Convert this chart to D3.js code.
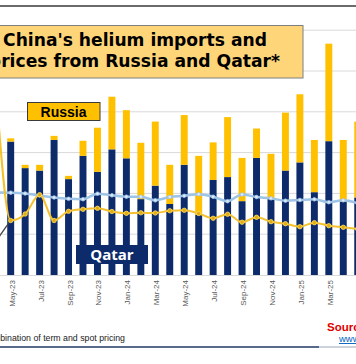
<!DOCTYPE html>
<html><head><meta charset="utf-8">
<script src="https://cdn.jsdelivr.net/npm/d3@7"></script>
<style>body{margin:0;background:#fff;overflow:hidden}</style>
</head><body><svg id="c" width="356" height="364"></svg>
<script>
const months = ["Apr-23","May-23","Jun-23","Jul-23","Aug-23","Sep-23","Oct-23","Nov-23","Dec-23",
  "Jan-24","Feb-24","Mar-24","Apr-24","May-24","Jun-24","Jul-24","Aug-24","Sep-24","Oct-24","Nov-24","Dec-24",
  "Jan-25","Feb-25","Mar-25","Apr-25","May-25"];
const qatarImports = [null,327,262,256,331,235,292,253,308,286,186,219,174,270,148,233,240,181,287,186,256,276,203,328,180,190];
const russiaImports = [null,8,8,14,10,8,37,108,129,118,138,157,96,122,144,92,147,106,72,111,142,167,128,239,151,186];
const qatarPrice = [20.2,20.17,19.98,19.49,19.0,18.68,18.58,19.93,19.53,19.19,19.19,18.31,19.12,19.41,19.8,19.19,18.09,19.73,19.12,18.8,18.21,18.38,18.55,17.84,18.31,17.57];
const russiaPrice = [44.9,13.36,14.95,19.68,13.36,15.61,16.1,16.35,15.56,15.12,15.25,15.2,15.74,15.86,15.07,13.9,14.9,12.94,14.14,13.06,12.57,11.84,12.82,12.08,11.69,11.27];
const priorPrice = [8.4,13.36];
const tickLabels = ["May-23","Jul-23","Sep-23","Nov-23","Jan-24","Mar-24","May-24","Jul-24","Sep-24","Nov-24","Jan-25","Mar-25","May-25"];
const volumeTicks = [0,100,200,300,400,500,600];
const titleLines = ["China's helium imports and","prices from Russia and Qatar*"];
const footnote = "*Combination of term and spot pricing";

const svg = d3.select("#c");
const NAVY = "#0D2B6B", GOLD = "#FFC000", LBLUE = "#9DC3E6";

const x = d3.scalePoint().domain(months).range([-10.99, 364.97]).padding(0.5);
const step = x.step();
const bw = step * 0.48;
const y = d3.scaleLinear().domain([0, 600]).range([275, 30.2]);
const yP = d3.scaleLinear().domain([0, 60]).range([275, 30.2]);

// frame line
svg.append("line").attr("x1",0).attr("x2",356).attr("y1",6).attr("y2",6).attr("stroke","#3a3a3a").attr("stroke-width",1.3);

// gridlines
svg.append("g").selectAll("line").data(volumeTicks.slice(1)).join("line")
  .attr("x1",0).attr("x2",356).attr("y1",d=>y(d)).attr("y2",d=>y(d))
  .attr("stroke","#D9D9D9").attr("stroke-width",1);
svg.append("line").attr("x1",0).attr("x2",356).attr("y1",y(0)+0.5).attr("y2",y(0)+0.5).attr("stroke","#D9D9D9");

// bars
const rows = months.map((m,i)=>({m, q:qatarImports[i], r:russiaImports[i]})).filter(d=>d.q!=null);
const gb = svg.append("g");
gb.selectAll("rect.q").data(rows).join("rect").attr("class","q")
  .attr("x",d=>x(d.m)-bw/2).attr("width",bw)
  .attr("y",d=>y(d.q)).attr("height",d=>y(0)-y(d.q)).attr("fill",NAVY);
gb.selectAll("rect.r").data(rows).join("rect").attr("class","r")
  .attr("x",d=>x(d.m)-bw/2).attr("width",bw)
  .attr("y",d=>y(d.q+d.r)).attr("height",d=>y(d.q)-y(d.q+d.r)).attr("fill",GOLD);

// lines
const lineLin = d3.line().defined(d=>d.v!=null).x(d=>x(d.m)).y(d=>yP(d.v));
const line = d3.line().defined(d=>d.v!=null).x(d=>x(d.m)).y(d=>yP(d.v)).curve(d3.curveMonotoneX);
const qp = months.map((m,i)=>({m,v:qatarPrice[i]}));
const rp = months.map((m,i)=>({m,v:russiaPrice[i]}));
const pp = priorPrice.map((v,i)=>({m:months[i],v}));
svg.append("path").datum(pp).attr("d",lineLin).attr("fill","none").attr("stroke","#404040").attr("stroke-width",1.3);
svg.append("path").datum(qp).attr("d",line).attr("fill","none").attr("stroke",LBLUE).attr("stroke-width",2.5);
svg.append("path").datum(rp).attr("d",line).attr("fill","none").attr("stroke","#F5C12E").attr("stroke-width",2);
svg.append("g").selectAll("circle").data(qp).join("circle")
  .attr("cx",d=>x(d.m)).attr("cy",d=>yP(d.v)).attr("r",1.8).attr("fill","#DCE9F6").attr("stroke",LBLUE).attr("stroke-width",0.8);
svg.append("g").selectAll("circle").data(rp).join("circle")
  .attr("cx",d=>x(d.m)).attr("cy",d=>yP(d.v)).attr("r",2.2).attr("fill","#E0AE10").attr("stroke","#FFD966").attr("stroke-width",0.8);

// x labels
svg.append("g").selectAll("text").data(tickLabels).join("text")
  .attr("transform",d=>`translate(${x(d)+1.2},280) rotate(-90)`)
  .attr("text-anchor","end").attr("dy","0.35em")
  .attr("font-family","Liberation Sans, Arial, sans-serif").attr("font-size",8).attr("fill","#595959")
  .text(d=>d);

// title box
svg.append("rect").attr("x",-40).attr("y",25.5).attr("width",343).attr("height",52.5)
  .attr("fill","#FFD57A").attr("stroke","#7F7F7F").attr("stroke-width",1);
const TF = "DejaVu Sans, sans-serif";
const t1 = svg.append("text").attr("x",135).attr("y",46).attr("text-anchor","middle")
  .attr("font-family",TF).attr("font-weight","bold").attr("font-size",18).attr("fill","#000").text(titleLines[0]);
const w1 = t1.node().getComputedTextLength();
const fsT = 18*264/w1;
t1.attr("font-size",fsT);
{
  const tmp = svg.append("text").attr("font-family",TF).attr("font-weight","bold").attr("font-size",fsT).text(titleLines[1].slice(1));
  const w = tmp.node().getComputedTextLength(); tmp.remove();
  svg.append("text").attr("x",280).attr("y",67).attr("text-anchor","end")
    .attr("font-family",TF).attr("font-weight","bold").attr("font-size",fsT*279/w).attr("fill","#000").text(titleLines[1]);
}

// Russia label
svg.append("rect").attr("x",27.5).attr("y",102.5).attr("width",72.5).attr("height",18)
  .attr("fill",GOLD).attr("stroke","#3a3a3a").attr("stroke-width",1);
svg.append("text").attr("x",63.5).attr("y",116.5).attr("text-anchor","middle")
  .attr("font-family","Liberation Sans, Arial, sans-serif").attr("font-weight","bold").attr("font-size",14).attr("fill","#000").text("Russia");

// Qatar label
svg.append("rect").attr("x",76).attr("y",245).attr("width",72).attr("height",19).attr("fill",NAVY);
svg.append("text").attr("x",112).attr("y",260).attr("text-anchor","middle")
  .attr("font-family","Open Sans, Liberation Sans, sans-serif").attr("font-weight","bold").attr("font-size",15).attr("fill","#fff").text("Qatar");

// footnote
const fn = svg.append("text").attr("x",125).attr("y",341).attr("text-anchor","end")
  .attr("font-family","Liberation Sans, Arial, sans-serif").attr("font-size",9).attr("fill","#222").text(footnote);
{
  const tmp = svg.append("text").attr("font-family","Liberation Sans, Arial, sans-serif").attr("font-size",9).text(footnote.slice(4));
  const w = tmp.node().getComputedTextLength(); tmp.remove();
  fn.attr("font-size", 9*125/w);
}
svg.append("line").attr("x1",0).attr("x2",319).attr("y1",347).attr("y2",347).attr("stroke","#1F3864").attr("stroke-width",1.3);
svg.append("line").attr("x1",319).attr("x2",356).attr("y1",347).attr("y2",347).attr("stroke","#9aa4b8").attr("stroke-width",1);

// source
svg.append("text").attr("x",327).attr("y",331).attr("font-family","Liberation Sans, Arial, sans-serif")
  .attr("font-weight","bold").attr("font-size",11.5).attr("fill","#E00000").text("Sources:");
svg.append("text").attr("x",339).attr("y",342).attr("font-family","Liberation Sans, Arial, sans-serif")
  .attr("font-size",9.5).attr("fill","#0563C1").attr("text-decoration","underline").text("www.");
</script></body></html>
